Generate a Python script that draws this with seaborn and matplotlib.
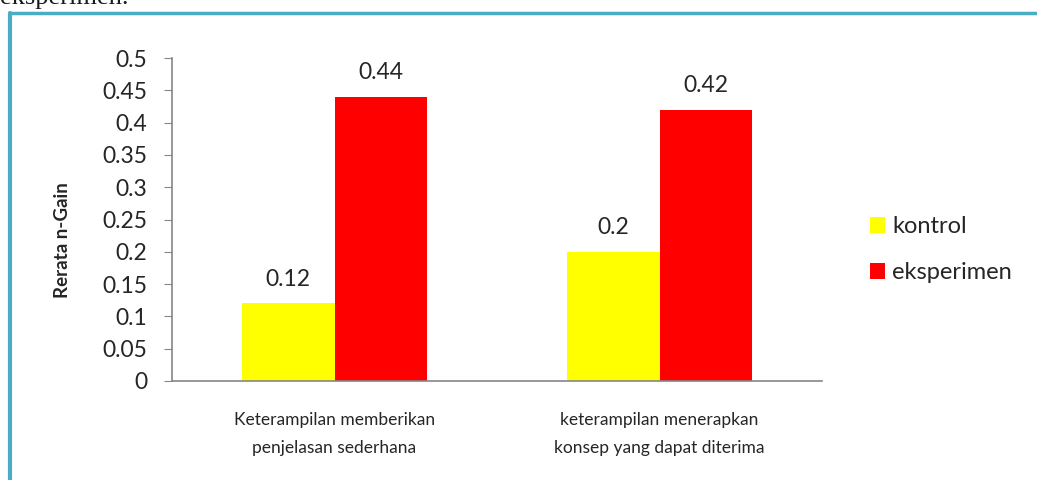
import pandas as pd
import matplotlib.pyplot as plt
import seaborn as sns
from matplotlib.lines import Line2D

# data
categories = ["Keterampilan memberikan\npenjelasan sederhana",
              "keterampilan menerapkan\nkonsep yang dapat diterima"]
kontrol = [0.12, 0.2]
eksperimen = [0.44, 0.42]
groups = ["kontrol", "eksperimen"]
colors = {"kontrol": "#FFFF00", "eksperimen": "#FF0000"}
yticks = [0, 0.05, 0.1, 0.15, 0.2, 0.25, 0.3, 0.35, 0.4, 0.45, 0.5]

df = pd.DataFrame({
    "kategori": categories * 2,
    "grup": ["kontrol"] * len(categories) + ["eksperimen"] * len(categories),
    "nilai": kontrol + eksperimen,
})

sns.set_style("white")
plt.rcParams["font.family"] = ["Lato", "DejaVu Sans"]

fig = plt.figure(figsize=(10.37, 4.8), dpi=100)
ax = fig.add_axes([0.1659, 0.2063, 0.6268, 0.6727])

sns.barplot(data=df, x="kategori", y="nilai", hue="grup", hue_order=groups,
            palette=colors, saturation=1, width=0.57, linewidth=0, ax=ax)

for cont in ax.containers:
    ax.bar_label(cont, fmt="%g", padding=10, fontsize=16.5)

ax.set_xlim(-0.5, 1.5)
ax.set_ylim(0, 0.5)
ax.set_yticks(yticks)
ax.set_yticklabels([f"{t:g}" for t in yticks], fontsize=16.5)
ax.set_xlabel("")
ax.set_ylabel("")
fig.text(63 / 1037, 1 - 240 / 480, "Rerata n-Gain", rotation=90, fontsize=13.5,
         fontweight="bold", ha="center", va="center")
ax.tick_params(axis="x", which="major", length=0, labelsize=12.5, pad=22)
ax.set_xticks([-0.5, 0.5, 1.5], minor=True)
ax.tick_params(axis="x", which="minor", length=5, color="#868686", direction="out")
ax.tick_params(axis="y", length=6, color="#868686", direction="out", left=True, pad=12)
for lbl in ax.get_xticklabels():
    lbl.set_linespacing(1.95)

for s in ["top", "right"]:
    ax.spines[s].set_visible(False)
for s in ["left", "bottom"]:
    ax.spines[s].set_color("#868686")
    ax.spines[s].set_linewidth(1.2)

handles, labels = ax.get_legend_handles_labels()
ax.legend(handles, labels, loc="center left", bbox_to_anchor=(0.818, 0.48),
          bbox_transform=fig.transFigure, frameon=False, fontsize=17,
          handlelength=0.65, handleheight=0.65, handletextpad=0.3, labelspacing=1.05)

# teal frame around the chart and cut-off text above it
border = "#4BACC6"
xl = 10 / 1037
yt = 1 - 13 / 480
fig.add_artist(Line2D([xl, xl], [0, yt], color=border, linewidth=3, transform=fig.transFigure))
fig.add_artist(Line2D([xl, 1], [yt, yt], color=border, linewidth=2.5, transform=fig.transFigure))
fig.text(0.0, 1 - 4 / 480, "eksperimen.", fontsize=19, family="Liberation Serif",
         va="baseline", ha="left", color="#1a1a1a")

fig.savefig("out.png", dpi=100)
